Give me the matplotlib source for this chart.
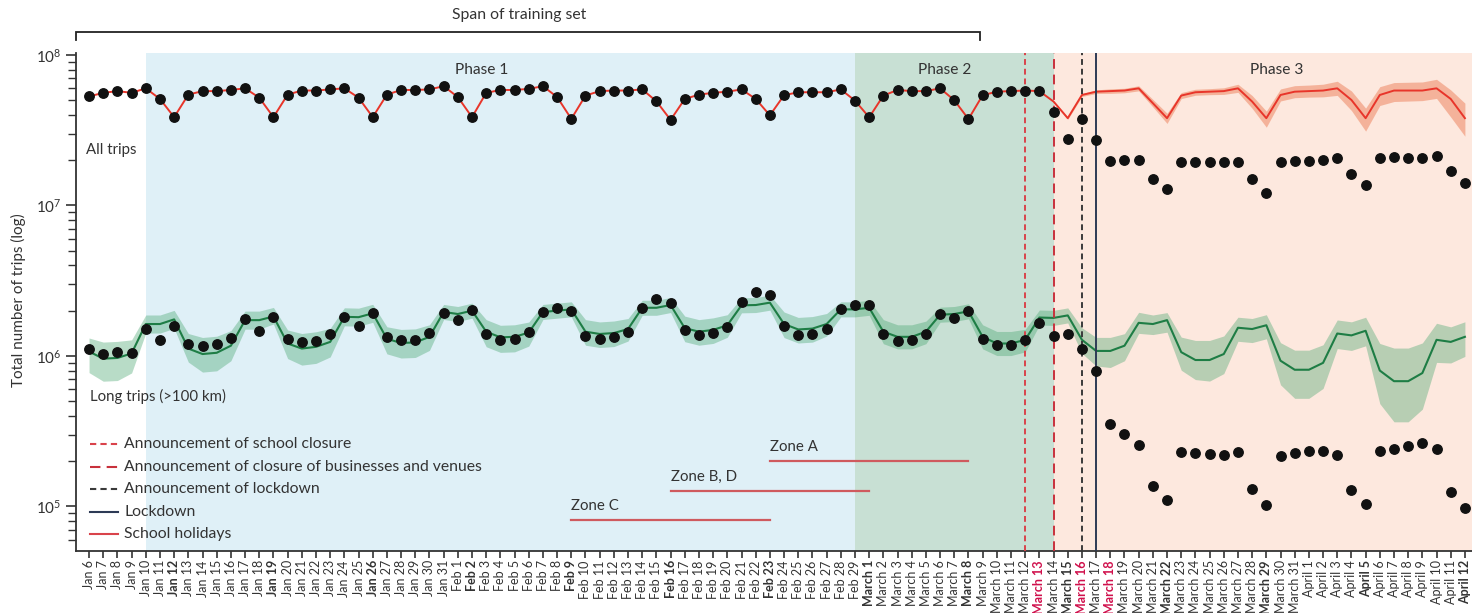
import matplotlib
matplotlib.use("Agg")
import matplotlib.pyplot as plt
import numpy as np
from matplotlib.lines import Line2D

plt.rcParams['font.family'] = ['Lato', 'DejaVu Sans']

# ---------------- data ----------------
days = ([f"Jan {d}" for d in range(6, 32)] + [f"Feb {d}" for d in range(1, 30)]
        + [f"March {d}" for d in range(1, 32)] + [f"April {d}" for d in range(1, 13)])

bold_days = ["Jan 12", "Jan 19", "Jan 26", "Feb 2", "Feb 9", "Feb 16", "Feb 23",
             "March 1", "March 8", "March 15", "March 22", "March 29", "April 5", "April 12"]
red_days = ["March 13", "March 16", "March 18"]

# all trips observed (millions)
all_obs_m = [53, 56, 57.5, 56, 60, 51, 38.6,
             54.5, 57.5, 57.5, 58.5, 60, 52, 38.6,
             54.5, 58, 58, 59, 60, 52, 38.6,
             54.5, 58.5, 58.5, 59, 62, 52.5, 38.6,
             56, 58.5, 58.5, 59.5, 62, 52.5, 37.6,
             53.7, 57.5, 58, 58, 59, 49.2, 37,
             51, 54.5, 56, 57, 59, 51, 39.7,
             54, 56.5, 56.5, 56.5, 59, 49.7, 38.5,
             53.7, 58.5, 57.5, 57.5, 60, 50, 37.5,
             54, 57, 57.5, 58, 57.5, 41.6, 27.8,
             37.8, 27.3, 19.8, 19.9, 20, 15, 12.9,
             19.4, 19.4, 19.4, 19.4, 19.4, 15, 12.1,
             19.3, 19.8, 19.8, 20, 20.7, 16.2, 13.7,
             20.7, 21, 20.6, 20.7, 21.2, 16.9, 14]

# all trips counterfactual prediction, March 14 - April 12 (millions)
all_pred_m = [49, 38, 54.2, 57, 57.5, 58, 60, 47.8, 38,
              53.7, 56.5, 57, 57.5, 60, 49, 38,
              54.2, 57, 57.5, 58, 60, 50.2, 38,
              54.2, 58, 58, 58, 60, 51, 38]
all_pred_up = [0.005, 0.008, 0.01, 0.012, 0.015, 0.015, 0.017, 0.025, 0.033,
               0.02, 0.02, 0.02, 0.022, 0.027, 0.04, 0.047,
               0.04, 0.04, 0.04, 0.042, 0.047, 0.06, 0.067,
               0.055, 0.053, 0.055, 0.057, 0.06, 0.06, 0.10]
all_pred_dn = [0.005, 0.008, 0.01, 0.012, 0.015, 0.015, 0.017, 0.025, 0.035,
               0.02, 0.02, 0.02, 0.022, 0.027, 0.045, 0.06,
               0.04, 0.04, 0.04, 0.042, 0.047, 0.07, 0.086,
               0.07, 0.073, 0.07, 0.067, 0.067, 0.12, 0.12]
pred_start = "March 14"

# long trips observed (thousands)
long_obs_k = [1110, 1030, 1070, 1050, 1510, 1280, 1570,
              1210, 1170, 1200, 1310, 1770, 1470, 1820,
              1290, 1240, 1260, 1390, 1820, 1590, 1920,
              1340, 1270, 1270, 1430, 1920, 1730, 2010,
              1400, 1280, 1290, 1450, 1970, 2070, 1990,
              1360, 1290, 1330, 1440, 2080, 2400, 2260,
              1480, 1370, 1430, 1560, 2280, 2670, 2530,
              1570, 1370, 1390, 1500, 2050, 2190, 2190,
              1390, 1250, 1270, 1390, 1890, 1800, 1990,
              1300, 1190, 1190, 1280, 1650, 1360, 1400,
              1120, 798, 355, 305, 256, 136, 110,
              229, 228, 223, 220, 229, 130, 102,
              217, 228, 233, 233, 220, 128, 104,
              233, 242, 253, 265, 242, 125, 98]

# long trips model fit (thousands)
long_fit_k = [1070, 960, 970, 1040, 1630, 1630, 1750,
              1120, 1030, 1050, 1170, 1730, 1730, 1830,
              1210, 1120, 1150, 1240, 1820, 1810, 1920,
              1300, 1220, 1230, 1340, 1960, 1900, 2000,
              1450, 1330, 1340, 1430, 1960, 2000, 2040,
              1450, 1400, 1420, 1510, 2090, 2090, 2180,
              1530, 1450, 1490, 1600, 2170, 2180, 2260,
              1630, 1500, 1520, 1630, 2040, 2040, 2090,
              1450, 1340, 1340, 1450, 1880, 1900, 1980,
              1340, 1210, 1210, 1280, 1800, 1790, 1860,
              1280, 1080, 1080, 1170, 1660, 1630, 1730,
              1060, 940, 940, 1030, 1540, 1510, 1600,
              930, 810, 810, 900, 1410, 1370, 1470,
              800, 680, 680, 770, 1280, 1240, 1340]

# long trips band half-widths (decades, up / down)
long_up = [0.09, 0.11, 0.11, 0.09, 0.06, 0.06, 0.06,
           0.10, 0.11, 0.11, 0.10, 0.06, 0.06, 0.06,
           0.09, 0.10, 0.10, 0.09, 0.06, 0.06, 0.06,
           0.08, 0.09, 0.09, 0.08, 0.05, 0.05, 0.05,
           0.08, 0.08, 0.08, 0.07, 0.05, 0.05, 0.05,
           0.08, 0.08, 0.08, 0.07, 0.05, 0.05, 0.05,
           0.08, 0.08, 0.08, 0.07, 0.05, 0.05, 0.05,
           0.08, 0.08, 0.08, 0.07, 0.05, 0.05, 0.05,
           0.08, 0.08, 0.08, 0.07, 0.05, 0.05, 0.05,
           0.08, 0.08, 0.08, 0.07, 0.05, 0.05, 0.05,
           0.08, 0.09, 0.09, 0.08, 0.07, 0.06, 0.05,
           0.10, 0.13, 0.13, 0.12, 0.07, 0.07, 0.07,
           0.12, 0.13, 0.13, 0.12, 0.09, 0.09, 0.09,
           0.18, 0.22, 0.22, 0.20, 0.11, 0.10, 0.10]
long_dn = [0.14, 0.15, 0.15, 0.13, 0.06, 0.06, 0.06,
           0.09, 0.12, 0.12, 0.10, 0.06, 0.06, 0.05,
           0.10, 0.11, 0.11, 0.10, 0.06, 0.06, 0.06,
           0.10, 0.10, 0.10, 0.09, 0.05, 0.05, 0.05,
           0.10, 0.10, 0.10, 0.09, 0.05, 0.05, 0.05,
           0.09, 0.09, 0.09, 0.08, 0.05, 0.05, 0.05,
           0.09, 0.09, 0.09, 0.08, 0.05, 0.05, 0.05,
           0.09, 0.09, 0.09, 0.08, 0.05, 0.05, 0.05,
           0.08, 0.08, 0.08, 0.08, 0.05, 0.05, 0.05,
           0.08, 0.08, 0.08, 0.08, 0.05, 0.05, 0.05,
           0.09, 0.10, 0.11, 0.10, 0.07, 0.07, 0.08,
           0.12, 0.13, 0.14, 0.13, 0.09, 0.09, 0.09,
           0.16, 0.19, 0.19, 0.17, 0.10, 0.10, 0.10,
           0.22, 0.27, 0.27, 0.24, 0.15, 0.14, 0.13]

phase_names = ["Phase 1", "Phase 2", "Phase 3"]
phase_starts = ["Jan 10", "Feb 29", "March 14"]
phase_ends = ["Feb 29", "March 14", None]
phase_colors = ["#dff0f7", "#c8e0d4", "#fde8de"]

event_labels = ["Announcement of school closure",
                "Announcement of closure of businesses and venues",
                "Announcement of lockdown", "Lockdown"]
event_days = ["March 12", "March 14", "March 16", "March 17"]
event_colors = ["#d9434b", "#c8313c", "#3a3a3a", "#2d3a55"]
event_dashes = [(3, 2), (5, 3), (3, 2), None]

zone_names = ["Zone A", "Zone B, D", "Zone C"]
zone_start = ["Feb 23", "Feb 16", "Feb 9"]
zone_end = ["March 8", "March 1", "Feb 23"]
zone_levels = [2.02e5, 1.27e5, 8.1e4]

training_span_end = 62.8

# ---------------- plotting ----------------
x = np.arange(len(days))
idx = {d: i for i, d in enumerate(days)}

all_obs = np.array(all_obs_m) * 1e6
all_pred = np.array(all_pred_m) * 1e6
long_obs = np.array(long_obs_k) * 1e3
long_fit = np.array(long_fit_k) * 1e3
ps = idx[pred_start]
all_line = np.concatenate([all_obs[:ps], all_pred])
xp = x[ps:]

fig = plt.figure(figsize=(14.72, 6.13), dpi=100)
ax = fig.add_axes([76 / 1472, 1 - 550.5 / 613, 1 - 76 / 1472, (550.5 - 53) / 613])
ax.set_yscale('log')
xmin, xmax = -0.92, 97.5
ax.set_xlim(xmin, xmax)
ax.set_ylim(5.1e4, 1.03e8)

for name, s, e, c in zip(phase_names, phase_starts, phase_ends, phase_colors):
    x0 = idx[s]
    x1 = idx[e] if e is not None else xmax
    ax.axvspan(x0, x1, color=c, zorder=0, lw=0)

phase_text_x = [27.7, 60.3, 83.7]
for name, tx in zip(phase_names, phase_text_x):
    ax.text(tx, 7.9e7, name, ha='center', va='center', fontsize=11.2, color='#333333')

# long trips band + line
ax.fill_between(x, long_fit / 10 ** np.array(long_dn), long_fit * 10 ** np.array(long_up),
                color='#46a56e', alpha=0.38, lw=0, zorder=1)
ax.plot(x, long_fit, color='#1e7d45', lw=1.5, zorder=2)

# all trips band + line
ax.fill_between(xp, all_pred / 10 ** np.array(all_pred_dn), all_pred * 10 ** np.array(all_pred_up),
                color='#ed7e58', alpha=0.5, lw=0, zorder=1)
ax.plot(x, all_line, color='#e8352a', lw=1.4, zorder=2)

# dots
ax.plot(x, all_obs, 'o', color='#111111', ms=6.8, zorder=4)
ax.plot(x, long_obs, 'o', color='#111111', ms=6.8, zorder=4)

# event lines
for d, c, ds in zip(event_days, event_colors, event_dashes):
    if ds is None:
        ax.axvline(idx[d], color=c, lw=1.4, zorder=3)
    else:
        ax.axvline(idx[d], color=c, lw=1.4, dashes=ds, zorder=3)

# zone lines
for name, s, e, lvl in zip(zone_names, zone_start, zone_end, zone_levels):
    ax.plot([idx[s], idx[e]], [lvl, lvl], color='#cf5a5e', lw=1.6, zorder=3)
    ax.annotate(name, (idx[s], lvl), xytext=(0, 10), textcoords='offset points',
                ha='left', va='center', fontsize=10.8, color='#333333')

# series labels
ax.text(-0.2, 2.34e7, "All trips", ha='left', va='center', fontsize=10.8, color='#333333')
ax.text(0.05, 5.42e5, "Long trips (>100 km)", ha='left', va='center', fontsize=10.8, color='#333333')

# manual legend
leg_labels = event_labels + ["School holidays"]
leg_colors = event_colors + ["#d9434b"]
leg_dashes = event_dashes + [None]
leg_y_px = [444, 467, 489, 512, 534]
for lab, c, ds, ypx in zip(leg_labels, leg_colors, leg_dashes, leg_y_px):
    yf = (550.5 - ypx) / 497.5
    ln = Line2D([(90 - 76) / 1396, (118 - 76) / 1396], [yf, yf], color=c, lw=1.5,
                transform=ax.transAxes, zorder=5)
    if ds is not None:
        ln.set_dashes(ds)
    ax.add_line(ln)
    ax.text((124 - 76) / 1396, yf, lab, transform=ax.transAxes, ha='left', va='center',
            fontsize=11.3, color='#333333')

# span of training set bracket
yb, yt = 1.42e8, 1.26e8
ax.plot([xmin, xmin, training_span_end, training_span_end], [yt, yb, yb, yt],
        color='#222222', lw=1.3, clip_on=False, solid_joinstyle='miter')
ax.text(30.3, 1.85e8, "Span of training set", ha='center', va='center', fontsize=11.3,
        color='#333333', clip_on=False)

# axes styling
for sp in ['top', 'right']:
    ax.spines[sp].set_visible(False)
for sp in ['left', 'bottom']:
    ax.spines[sp].set_linewidth(1.3)
    ax.spines[sp].set_color('#333333')

ax.set_xticks(x)
ax.set_xticklabels(days, rotation=90, fontsize=9, color='#333333')
for lab in ax.get_xticklabels():
    t = lab.get_text()
    if t in bold_days:
        lab.set_fontweight('bold')
    if t in red_days:
        lab.set_color('#d0104c')
        lab.set_fontweight('bold')
ax.tick_params(axis='x', direction='out', length=5, width=1.2, color='#333333', pad=2)
ax.tick_params(axis='y', which='major', direction='out', length=7, width=1.2,
               color='#333333', labelsize=11, labelcolor='#333333')
ax.tick_params(axis='y', which='minor', direction='out', length=6, width=1.0, color='#333333')
ax.yaxis.set_major_locator(matplotlib.ticker.LogLocator(base=10, numticks=10))
ax.yaxis.set_minor_locator(matplotlib.ticker.LogLocator(base=10, subs=np.arange(2, 10), numticks=20))
ax.yaxis.set_minor_formatter(matplotlib.ticker.NullFormatter())

ax.set_ylabel("Total number of trips (log)", fontsize=11, color='#333333')
ax.yaxis.set_label_coords(-0.036, 0.503)

fig.savefig("out.png", dpi=100)
